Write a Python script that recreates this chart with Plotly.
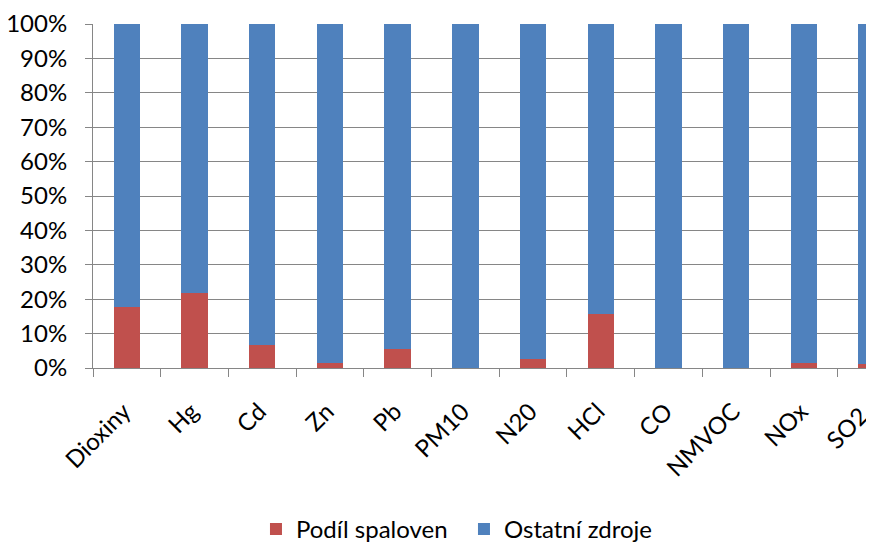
import plotly.graph_objects as go

categories = ["Dioxiny", "Hg", "Cd", "Zn", "Pb", "PM10", "N20", "HCl", "CO", "NMVOC", "NOx", "SO2"]
podil_spaloven = [17.6, 21.7, 6.8, 1.5, 5.6, 0.0, 2.6, 15.8, 0.0, 0.0, 1.5, 1.2]
ostatni_zdroje = [100 - v for v in podil_spaloven]
y_ticks = [0, 10, 20, 30, 40, 50, 60, 70, 80, 90, 100]
y_labels = [f"{v}%" for v in y_ticks]

FONT = "Lato"

fig = go.Figure()
fig.add_trace(go.Bar(x=categories, y=podil_spaloven, name="Podíl spaloven",
                     marker=dict(color="#C0504D", line=dict(width=0)), width=0.39))
fig.add_trace(go.Bar(x=categories, y=ostatni_zdroje, name="Ostatní zdroje",
                     marker=dict(color="#4F81BD", line=dict(width=0)), width=0.39))

# last category label is drawn as an annotation so it stays inside the window edge
x_ticktext = categories[:-1] + [""]
fig.add_annotation(x=categories[-1], y=0, xref="x", yref="y", text=categories[-1],
                   textangle=-45, xanchor="right", yanchor="top", showarrow=False,
                   xshift=3, yshift=-32, borderpad=0, font=dict(size=24, family=FONT))

# page body has an 8px margin; figure is sized to fit the visible window
fig.update_layout(
    width=866, height=534,
    barmode="stack",
    plot_bgcolor="white", paper_bgcolor="white",
    margin=dict(l=85, r=0, t=16, b=174, autoexpand=False),
    font=dict(family=FONT, size=24, color="#000000"),
    legend=dict(orientation="h", x=0.475, xanchor="center", y=-0.469, yanchor="middle",
                font=dict(size=24), traceorder="normal", itemwidth=30,
                entrywidth=163, entrywidthmode="pixels"),
    showlegend=True,
)
fig.update_xaxes(
    type="category", range=[-0.5, 11.035], automargin=False,
    tickmode="array", tickvals=categories, ticktext=x_ticktext,
    tickangle=-45, tickson="boundaries", ticks="outside", ticklen=8,
    tickcolor="#868686", showline=True, linecolor="#868686", linewidth=1,
    showgrid=False, ticklabelstandoff=19, ticklabelshift=-3,
)
fig.update_yaxes(
    range=[0, 100], tickvals=y_ticks, ticktext=y_labels, automargin=False,
    ticks="outside", ticklen=7, tickcolor="#868686",
    showline=True, linecolor="#868686", linewidth=1,
    showgrid=True, gridcolor="#868686", gridwidth=1,
    zeroline=False, ticklabelstandoff=13,
)
fig.write_html("out.html")
